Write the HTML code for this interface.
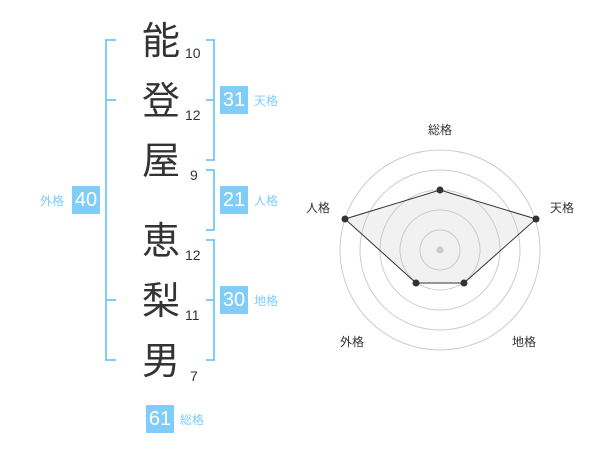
<!DOCTYPE html>
<html><head><meta charset="utf-8"><style>
body{margin:0;width:600px;height:470px;background:#fff;position:relative;font-family:"Liberation Sans","Noto Sans CJK JP",sans-serif;overflow:hidden}
.c{position:absolute;left:140px;width:42px;text-align:center;font-size:38px;line-height:40px;color:#333}
.n{position:absolute;font-size:14px;color:#333;line-height:16px}
.b{position:absolute;width:28px;height:28px;background:#7fcdf8;color:#fff;font-size:20px;line-height:28px;text-align:center}
.l{position:absolute;font-size:12px;color:#7fcdf8;line-height:14px}
</style></head><body>
<svg width="600" height="470" style="position:absolute;left:0;top:0">
<g stroke="#7fcdf8" stroke-width="2" fill="none">
<path d="M116 40H106V360H116M106 100H116M106 300H116"/>
<path d="M206 40H214V160H206M206 100H214"/>
<path d="M206 170H214V230H206"/>
<path d="M206 240H214V360H206M206 300H214"/>
</g>
<g stroke="#ccc" fill="none">
<circle cx="440" cy="250" r="20"/><circle cx="440" cy="250" r="40"/><circle cx="440" cy="250" r="60"/><circle cx="440" cy="250" r="80"/><circle cx="440" cy="250" r="100"/>
</g>
<circle cx="440" cy="250" r="3.5" fill="#ccc"/>
<polygon points="440,190 536,219 464,283 416,283 345,219" fill="rgba(200,200,200,0.25)" stroke="#333" stroke-width="1"/>
<g fill="#333"><circle cx="440" cy="190" r="3.5"/><circle cx="536" cy="219" r="3.5"/><circle cx="464" cy="283" r="3.5"/><circle cx="416" cy="283" r="3.5"/><circle cx="345" cy="219" r="3.5"/></g>
<g font-size="12" fill="#333" text-anchor="middle" font-family="Liberation Sans,Noto Sans CJK JP,sans-serif">
<text x="440" y="134">総格</text><text x="318" y="212">人格</text><text x="562" y="212">天格</text><text x="352" y="346">外格</text><text x="524" y="346">地格</text>
</g>
</svg>
<div class="c" style="top:22px">能</div><div class="n" style="left:185px;top:45px">10</div>
<div class="c" style="top:82px">登</div><div class="n" style="left:185px;top:107px">12</div>
<div class="c" style="top:142px">屋</div><div class="n" style="left:190px;top:167px">9</div>
<div class="c" style="top:222px">恵</div><div class="n" style="left:185px;top:247px">12</div>
<div class="c" style="top:282px">梨</div><div class="n" style="left:185px;top:307px">11</div>
<div class="c" style="top:342px">男</div><div class="n" style="left:190px;top:368px">7</div>
<div class="b" style="left:220px;top:86px">31</div><div class="l" style="left:254px;top:94px">天格</div>
<div class="b" style="left:220px;top:186px">21</div><div class="l" style="left:254px;top:194px">人格</div>
<div class="b" style="left:220px;top:286px">30</div><div class="l" style="left:254px;top:294px">地格</div>
<div class="b" style="left:72px;top:186px">40</div><div class="l" style="left:40px;top:194px">外格</div>
<div class="b" style="left:146px;top:405px">61</div><div class="l" style="left:180px;top:413px">総格</div>
</body></html>
